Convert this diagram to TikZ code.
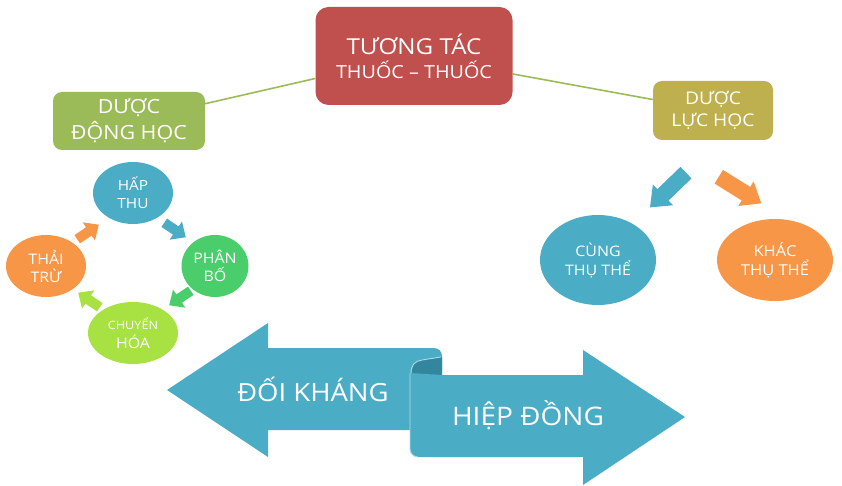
\documentclass[tikz,border=0pt]{standalone}
\usepackage{fontspec}
\setmainfont[FakeStretch=1.1]{Open Sans}
\usetikzlibrary{shapes.geometric}
\definecolor{tred}{RGB}{192,80,77}
\definecolor{tgreen}{RGB}{155,187,89}
\definecolor{tolive}{RGB}{190,176,78}
\definecolor{tblue}{RGB}{75,172,198}
\definecolor{tdark}{RGB}{52,134,158}
\definecolor{tmint}{RGB}{74,206,108}
\definecolor{tlime}{RGB}{167,226,66}
\definecolor{torange}{RGB}{247,150,70}
\tikzset{
  box/.style={rectangle, rounded corners=9, text=white, align=center, inner sep=0},
  oval/.style={ellipse, text=white, align=center, inner sep=0},
  conn/.style={draw=tgreen, line width=1.6},
  rtext/.style={text=white, inner sep=0},
  rim/.style={draw=white!55!tblue, line width=0.9},
  sarrow/.pic={\fill[pic actions] (-13,-5) -- (1,-5) -- (1,-11) -- (13,0) -- (1,11) -- (1,5) -- (-13,5) -- cycle;},
  barrow/.pic={\fill[pic actions] (-25,-8) -- (7,-8) -- (7,-14.5) -- (25,0) -- (7,14.5) -- (7,8) -- (-25,8) -- cycle;}
}
\begin{document}
\begin{tikzpicture}[x=1pt,y=-1pt]
\useasboundingbox (0,0) rectangle (842,486);

% top boxes
\node[box, fill=tred, rounded corners=13, minimum width=197, minimum height=98,
  font=\fontsize{22}{24}\selectfont] (title) at (414,56)
  {TƯƠNG TÁC\\\fontsize{18}{24}\selectfont THUỐC – THUỐC};
\node[box, fill=tgreen, minimum width=152, minimum height=58,
  font=\fontsize{19.5}{26}\selectfont] (dkd) at (129,121) {DƯỢC\\ĐỘNG HỌC};
\node[box, fill=tolive, minimum width=120, minimum height=59,
  font=\fontsize{17.5}{22.5}\selectfont] (dlh) at (713,110.5) {DƯỢC\\LỰC HỌC};
\draw[conn] (title) -- (dkd);
\draw[conn] (title) -- (dlh);

% cycle
\node[oval, fill=tblue, minimum width=80, minimum height=62,
  font=\fontsize{14}{18}\selectfont] (hap) at (133,193) {HẤP\\THU};
\node[oval, fill=tmint, minimum width=67, minimum height=62,
  font=\fontsize{14.5}{18}\selectfont] (phan) at (215,266) {PHÂN\\BỐ};
\node[oval, fill=tlime, minimum width=90, minimum height=62,
  font=\fontsize{11.5}{19}\selectfont] (chuyen) at (133,333)
  {CHUYỂN\\\fontsize{14.5}{19}\selectfont HÓA};
\node[oval, fill=torange, minimum width=80, minimum height=62,
  font=\fontsize{14.5}{18}\selectfont] (thai) at (46,266) {THẢI\\TRỪ};
\pic[fill=tblue, rotate=-34] at (175,230) {sarrow};
\pic[fill=tmint, rotate=-146] at (180,298) {sarrow};
\pic[fill=tlime, rotate=146] at (89,300) {sarrow};
\pic[fill=torange, rotate=34] at (88,232) {sarrow};

% receptors
\node[oval, fill=tblue, minimum width=116, minimum height=90,
  font=\fontsize{14.5}{19}\selectfont] (cung) at (598,260) {CÙNG\\THỤ THỂ};
\node[oval, fill=torange, minimum width=116, minimum height=82,
  font=\fontsize{15}{19}\selectfont] (khac) at (775,260) {KHÁC\\THỤ THỂ};
\pic[fill=tblue, rotate=-136] at (668,190) {barrow};
\pic[fill=torange, rotate=-32] at (740,190) {barrow};

% ribbon arrows
\fill[tblue] (167,390) -- (268,323) -- (268,348) -- (434,348) to[out=0,in=90] (442,356)
  -- (442,430) -- (268,430) -- (268,457) -- cycle;
\fill[tdark] (442,357) -- (421,360) .. controls (415,361) and (412,366) .. (412,371)
  -- (412,376) -- (442,376) -- cycle;
\draw[rim] (411,373) .. controls (411,365) and (415,361) .. (422,360) -- (441,357);
\fill[tblue] (442,375) -- (583,375) -- (583,350) -- (685,417) -- (583,485) -- (583,457)
  -- (418,457) to[out=180,in=270] (410,449) -- (410,373) -- cycle;
\draw[rim] (410,373) -- (410,449) to[out=270,in=180] (418,457);
\node[rtext, font=\fontsize{25}{28}\selectfont] (doi) at (313,389) {ĐỐI KHÁNG};
\node[rtext, font=\fontsize{25.5}{28}\selectfont] (hiep) at (528,415) {HIỆP ĐỒNG};
\end{tikzpicture}
\end{document}
